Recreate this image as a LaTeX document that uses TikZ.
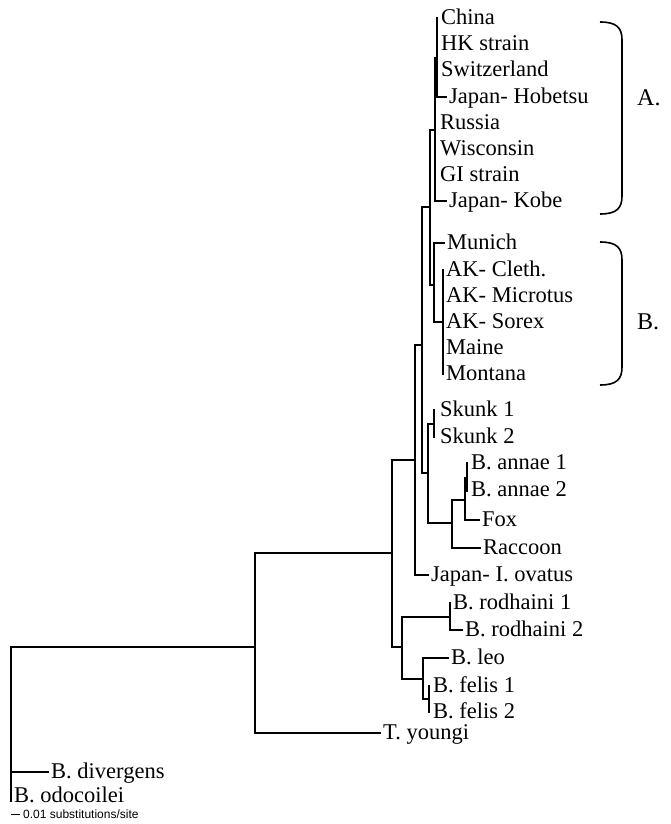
\documentclass[tikz,border=0pt]{standalone}
\usepackage{fontspec}
\setmainfont{Liberation Serif}
\newfontfamily\barfont{Liberation Sans}
\begin{document}
\begin{tikzpicture}[x=1pt,y=-1pt,
  br/.style={line width=1.3pt, line cap=rect},
  lab/.style={anchor=base west, inner sep=0pt, yshift=-6.5pt, font=\fontsize{22.5}{26}\selectfont},
  grp/.style={anchor=west, inner sep=0pt, font=\fontsize{24}{28}\selectfont},
  brace/.style={line width=1.6pt},
  sbar/.style={anchor=west, inner sep=0pt, font=\barfont\fontsize{12}{14}\selectfont}]
\useasboundingbox (0,0) rectangle (671,824);

% internal nodes: connection point, top, bottom
\foreach \n/\x/\c/\t/\b in {
  root/11/647/647/801, T/255/647/553/733, N1/392/553/460/647,
  N2/415/460/345/575, N4/422/345/207/473, AB/430/207/130/285,
  A/435/130/57.5/201, Ch/437/57.5/18/97, Mu/434/285/243/322,
  AK/443/322/270/374, N5/428/473/424/523, Sk/434/424/410/437,
  N6/452/523/500/548, Fx/465/500/478/520, An/467/478/463/491,
  N3/402/647/617/679, Rh/450/617/603/630, LF/423/679/658/699,
  Fe/429/699/686/712}{
  \coordinate (\n) at (\x,\c);
  \coordinate (\n-t) at (\x,\t);
  \coordinate (\n-b) at (\x,\b);
}
% leaf tips with visible branch
\coordinate (hob) at (446,97);
\coordinate (kob) at (446,201);
\coordinate (mun) at (444,243);
\coordinate (rac) at (480,548);
\coordinate (fox) at (479,520);
\coordinate (ova) at (428,575);
\coordinate (rh2) at (462,630);
\coordinate (leo) at (448,658);
\coordinate (ty)  at (380,733);
\coordinate (div) at (48,772);

% vertical bars
\foreach \n in {root,T,N1,N2,N4,AB,A,Ch,Mu,AK,N5,Sk,N6,Fx,An,N3,Rh,LF,Fe}
  \draw[br] (\n-t) -- (\n-b);
% horizontal branches to internal nodes
\foreach \p/\c in {root/T,T/N1,N1/N2,N1/N3,N2/N4,N4/AB,AB/A,A/Ch,AB/Mu,Mu/AK,
  N4/N5,N5/Sk,N5/N6,N6/Fx,Fx/An,N3/Rh,N3/LF,LF/Fe}
  \draw[br] (\p |- \c) -- (\c);
% horizontal branches to leaves
\foreach \p/\c in {Ch/hob,A/kob,Mu/mun,N6/rac,Fx/fox,N2/ova,Rh/rh2,LF/leo,T/ty,root/div}
  \draw[br] (\p |- \c) -- (\c);

% labels
\node[lab] (lChina) at (441,18) {China};
\node[lab] (lHK) at (441,44) {HK strain};
\node[lab] (lSwi) at (441,70) {Switzerland};
\node[lab] (lHob) at ([xshift=3pt]hob) {Japan- Hobetsu};
\node[lab] (lRus) at (440,123) {Russia};
\node[lab] (lWis) at (440,149) {Wisconsin};
\node[lab] (lGI) at (440,175) {GI strain};
\node[lab] (lKob) at ([xshift=3pt]kob) {Japan- Kobe};
\node[lab] (lMun) at ([xshift=3pt]mun) {Munich};
\node[lab] (lCle) at (446,270) {AK- Cleth.};
\node[lab] (lMic) at (446,296) {AK- Microtus};
\node[lab] (lSor) at (446,322) {AK- Sorex};
\node[lab] (lMai) at (446,348) {Maine};
\node[lab] (lMon) at (446,374) {Montana};
\node[lab] (lSk1) at (440,410) {Skunk 1};
\node[lab] (lSk2) at (440,437) {Skunk 2};
\node[lab] (lAn1) at (471,463) {B. annae 1};
\node[lab] (lAn2) at (471,490) {B. annae 2};
\node[lab] (lFox) at ([xshift=3pt]fox) {Fox};
\node[lab] (lRac) at ([xshift=3pt]rac) {Raccoon};
\node[lab] (lOva) at ([xshift=3pt]ova) {Japan- I. ovatus};
\node[lab] (lRh1) at (453,603) {B. rodhaini 1};
\node[lab] (lRh2) at ([xshift=3pt]rh2) {B. rodhaini 2};
\node[lab] (lLeo) at ([xshift=3pt]leo) {B. leo};
\node[lab] (lFe1) at (433,686) {B. felis 1};
\node[lab] (lFe2) at (433,712) {B. felis 2};
\node[lab] (lTy) at ([xshift=3pt]ty) {T. youngi};
\node[lab] (lDiv) at ([xshift=3pt]div) {B. divergens};
\node[lab] (lOdo) at (14,796) {B. odocoilei};

% group braces
\draw[brace] (600,22) .. controls (617,22) and (622,28) .. (622,40) -- (622,196)
  .. controls (622,208) and (617,214) .. (600,214);
\draw[brace] (600,242) .. controls (617,242) and (622,248) .. (622,260) -- (622,367)
  .. controls (622,379) and (617,385) .. (600,385);
\node[grp] (gA) at (637,98) {A.};
\node[grp] (gB) at (637,322) {B.};

% scale bar
\coordinate (s1) at (11,814);
\coordinate (s2) at (20,814);
\draw[line width=1pt] (s1) -- (s2);
\node[sbar] (sLab) at (23,814) {0.01 substitutions/site};
\end{tikzpicture}
\end{document}
